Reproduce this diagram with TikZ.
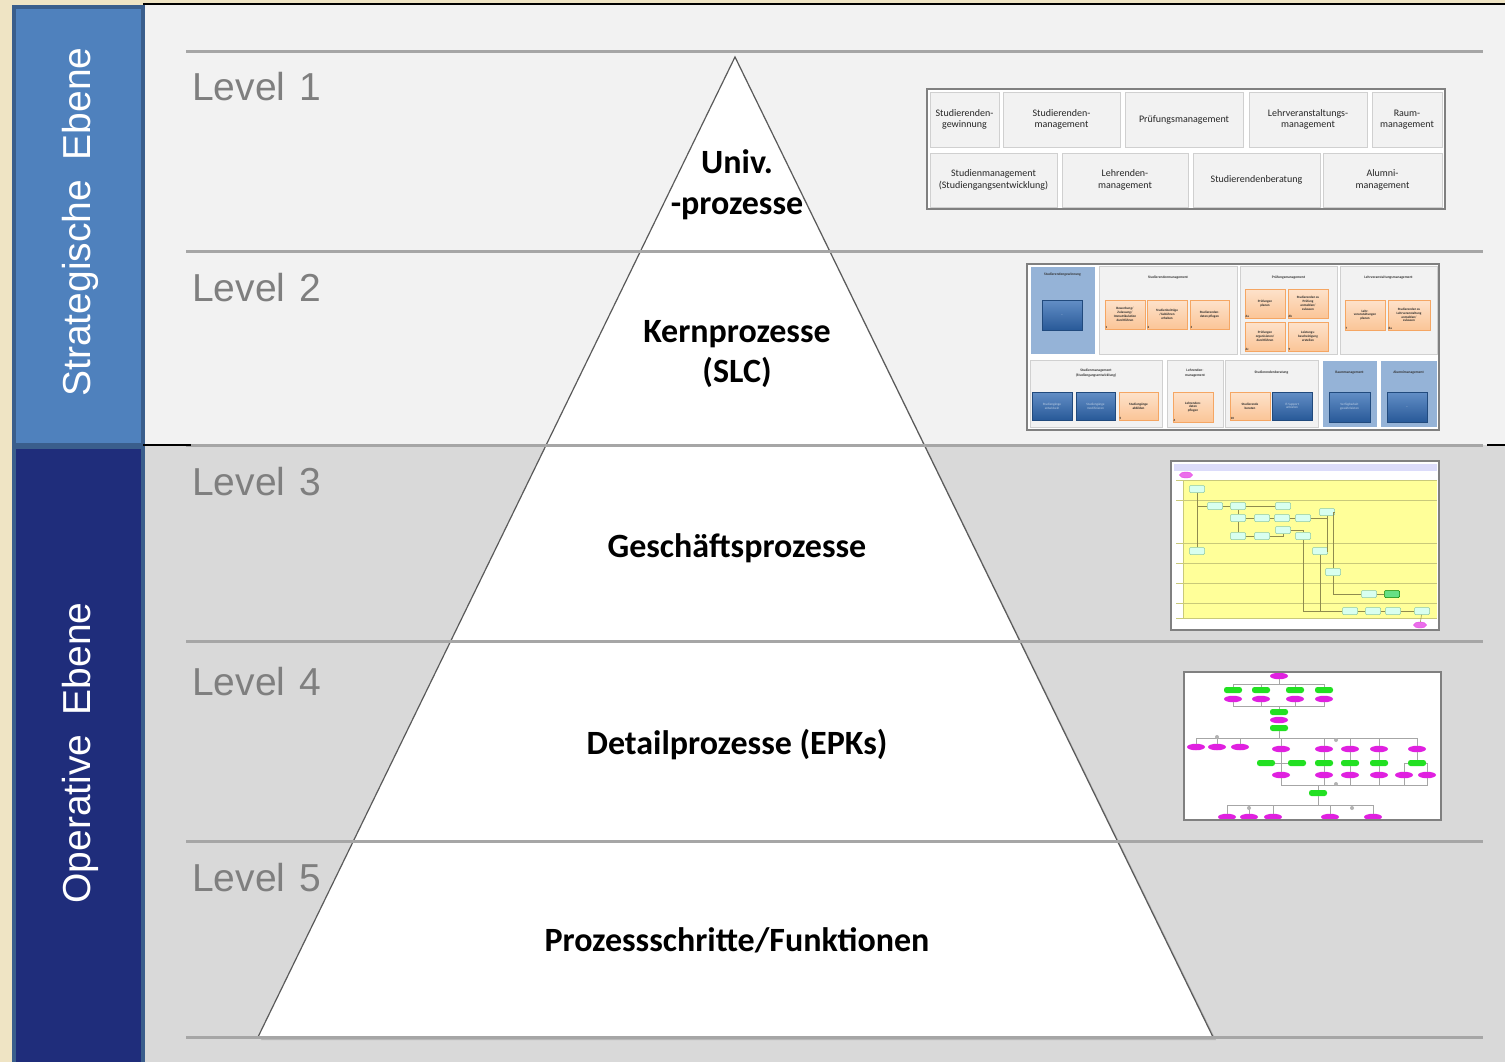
\documentclass[tikz,border=0pt]{standalone}
\usepackage{fontspec}
\setmainfont{Liberation Sans}
\newfontfamily\calib{Carlito}
\usetikzlibrary{shapes.geometric}

\definecolor{beige}{HTML}{EFE4C4}
\definecolor{stratblue}{HTML}{4F81BD}
\definecolor{opnavy}{HTML}{1F2D7B}
\definecolor{barrim}{HTML}{3A5E8C}
\definecolor{upperbg}{HTML}{F2F2F2}
\definecolor{lowerbg}{HTML}{D9D9D9}
\definecolor{levelgray}{HTML}{A6A6A6}
\definecolor{labelgray}{HTML}{7F7F7F}
\definecolor{framegray}{HTML}{808080}
\definecolor{pyredge}{HTML}{5A5A5A}
\definecolor{cellgray}{HTML}{F2F2F2}
\definecolor{cellrim}{HTML}{D0D0D0}
\definecolor{paleblue}{HTML}{95B3D7}
\definecolor{taskorange}{HTML}{FBC597}
\definecolor{taskrim}{HTML}{F5A663}
\definecolor{taskblue}{HTML}{2F69B3}
\definecolor{laneyellow}{HTML}{FFFF99}
\definecolor{lanerule}{HTML}{C9C97A}
\definecolor{headlav}{HTML}{DCDCFA}
\definecolor{stepcyan}{HTML}{D8FFF0}
\definecolor{steprim}{HTML}{8CC8A8}
\definecolor{eventmag}{HTML}{E020E0}
\definecolor{funcgreen}{HTML}{22E022}

% rectangle node given by its corners: name, x1, y1, x2, y2, style, text
\newcommand{\tilebox}[7]{%
  \pgfmathsetmacro{\tbw}{#4-#2}%
  \pgfmathsetmacro{\tbh}{#5-#3}%
  \pgfmathsetmacro{\tbx}{(#2+#4)/2}%
  \pgfmathsetmacro{\tby}{(#3+#5)/2}%
  \node[#6, minimum width=\tbw pt, minimum height=\tbh pt] (#1) at (\tbx,\tby) {#7};%
}

\begin{document}
\begin{tikzpicture}[x=1pt,y=-1pt,
  levelrule/.style={draw=levelgray,line width=3pt},
  levellabel/.style={anchor=base west,inner sep=0pt,text=labelgray,font=\fontsize{39}{39}\selectfont},
  sidelabel/.style={rotate=90,anchor=base,inner sep=0pt,text=white,font=\fontsize{39}{39}\selectfont},
  tiertext/.style={anchor=base,inner sep=0pt,font=\calib\bfseries\fontsize{34}{40}\selectfont},
  thumbframe/.style={draw=framegray,line width=2.5pt,fill=white,inner sep=0pt},
  l1cell/.style={draw=cellrim,line width=.8pt,fill=cellgray,inner sep=0pt,align=center,
    text=black!85,font=\calib\fontsize{10}{11.5}\selectfont},
  l2cell/.style={draw=cellrim,line width=.6pt,fill=cellgray,inner sep=0pt},
  l2pale/.style={draw=white,line width=.6pt,fill=paleblue,inner sep=0pt},
  l2title/.style={inner sep=0pt,align=center,text=black!80,font=\calib\bfseries\fontsize{3.6}{4.1}\selectfont},
  l2task/.style={draw=taskrim,line width=.5pt,top color=taskorange!50,bottom color=taskorange,
    inner sep=0pt,align=center,text=black!85,font=\calib\bfseries\fontsize{3.3}{3.8}\selectfont},
  l2blue/.style={draw=taskblue!70!black,line width=.5pt,top color=taskblue!75!white,bottom color=taskblue!85!black,
    inner sep=0pt,align=center,text=paleblue!60!white,font=\calib\fontsize{3.3}{3.8}\selectfont},
  l2num/.style={anchor=south west,inner sep=.7pt,text=black!85,font=\calib\bfseries\fontsize{3.2}{3.5}\selectfont},
  l3step/.style={draw=steprim,line width=.5pt,fill=stepcyan,minimum width=15pt,minimum height=7pt,inner sep=0pt,rounded corners=1pt},
  l3event/.style={ellipse,fill=eventmag!65,draw=eventmag!80,line width=.4pt,minimum width=13pt,minimum height=6pt,inner sep=0pt},
  l3link/.style={draw=olive!45!gray,line width=.5pt},
  l4event/.style={ellipse,fill=eventmag,minimum width=18pt,minimum height=6.5pt,inner sep=0pt},
  l4func/.style={rectangle,rounded corners=2.5pt,fill=funcgreen,minimum width=18pt,minimum height=6pt,inner sep=0pt},
  l4link/.style={draw=gray!70,line width=.5pt},
  l4gate/.style={circle,fill=gray!60,minimum size=4pt,inner sep=0pt}
]
\useasboundingbox (0,0) rectangle (1505,1062);

% backdrop and the two bands
\fill[beige] (0,0) rectangle (1505,1062);
\fill[upperbg] (143,5) rectangle (1505,445);
\fill[lowerbg] (143,445) rectangle (1505,1062);
\draw[black,line width=2pt] (143,4) -- (1505,4);

% side bars
\filldraw[fill=stratblue,draw=barrim,line width=4pt] (13.5,7.5) rectangle (142.5,445);
\filldraw[fill=opnavy,draw=barrim,line width=4pt] (13.5,447) rectangle (142.5,1075);
\node[sidelabel] (strat) at (90,222) {Strategische\hspace{0.5em}Ebene};
\node[sidelabel] (oper) at (90,753) {Operative\hspace{0.5em}Ebene};

% pyramid
\fill[black,opacity=.15] (737,60) -- (1216,1040) -- (261,1040) -- cycle;
\filldraw[fill=white,draw=pyredge,line width=1.2pt] (735,57) -- (1213,1037) -- (258,1037) -- cycle;

% level rules
\foreach \yy in {52,251,445,641,841,1037}
  \draw[levelrule] (186,\yy) -- (1483,\yy);
\draw[black,line width=2pt] (143,445) -- (191,445);
\draw[black,line width=2pt] (1487,445) -- (1505,445);

% level labels
\node[levellabel] (lv1) at (192,101) {Level\hspace{0.36em}1};
\node[levellabel] (lv2) at (192,301) {Level\hspace{0.36em}2};
\node[levellabel] (lv3) at (192,495) {Level\hspace{0.36em}3};
\node[levellabel] (lv4) at (192,695) {Level\hspace{0.36em}4};
\node[levellabel] (lv5) at (192,891) {Level\hspace{0.36em}5};

% pyramid tiers
\node[tiertext] (t1a) at (737,174) {Univ.};
\node[tiertext] (t1b) at (737,214) {-prozesse};
\node[tiertext] (t2a) at (737,342) {Kernprozesse};
\node[tiertext] (t2b) at (737,382) {(SLC)};
\node[tiertext] (t3) at (737,557) {Geschäftsprozesse};
\node[tiertext] (t4) at (737,754) {Detailprozesse (EPKs)};
\node[tiertext] (t5) at (737,951) {Prozessschritte/Funktionen};

% ---- level 1: process map
\tilebox{th1}{927}{89}{1445}{209}{thumbframe}{}
\tilebox{pa}{930}{92}{999}{147}{l1cell}{Studierenden-\\gewinnung}
\tilebox{pb}{1003}{92}{1120}{147}{l1cell}{Studierenden-\\management}
\tilebox{pc}{1125}{92}{1243}{147}{l1cell}{Prüfungsmanagement}
\tilebox{pd}{1249}{92}{1367}{147}{l1cell}{Lehrveranstaltungs-\\management}
\tilebox{pe}{1372}{92}{1442}{147}{l1cell}{Raum-\\management}
\tilebox{pf}{930}{153}{1057}{207}{l1cell}{Studienmanagement\\(Studiengangsentwicklung)}
\tilebox{pg}{1062}{153}{1188}{207}{l1cell}{Lehrenden-\\management}
\tilebox{ph}{1193}{153}{1320}{207}{l1cell}{Studierendenberatung}
\tilebox{pi}{1323}{153}{1442}{207}{l1cell}{Alumni-\\management}

% ---- level 2: core processes with tasks
\tilebox{th2}{1027}{264}{1439}{430}{thumbframe}{}
\tilebox{ga}{1030}{266}{1095}{354}{l2pale}{}
\node[l2title] (gat) at (1062.5,275) {Studierendengewinnung};
\tilebox{ga1}{1042}{300}{1082}{330}{l2blue}{...}
\tilebox{gb}{1099}{266}{1237}{354}{l2cell}{}
\node[l2title] (gbt) at (1168,278) {Studierendenmanagement};
\tilebox{gb1}{1105}{300}{1145}{329}{l2task}{Bewerbung/\\Zulassung/\\Immatrikulation\\durchführen}
\node[l2num] (gb1n) at (gb1.south west) {1};
\tilebox{gb2}{1147}{300}{1187}{329}{l2task}{Studienbeiträge\\/Gebühren\\erheben}
\node[l2num] (gb2n) at (gb2.south west) {2};
\tilebox{gb3}{1190}{300}{1229}{329}{l2task}{Studierenden-\\daten pflegen}
\node[l2num] (gb3n) at (gb3.south west) {3};
\tilebox{gc}{1240}{266}{1337}{354}{l2cell}{}
\node[l2title] (gct) at (1288.5,278) {Prüfungsmanagement};
\tilebox{gc1}{1245}{289}{1285}{318}{l2task}{Prüfungen\\planen}
\node[l2num] (gc1n) at (gc1.south west) {6a};
\tilebox{gc2}{1288}{289}{1328}{318}{l2task}{Studierenden zu\\Prüfung\\anmelden/\\zulassen}
\node[l2num] (gc2n) at (gc2.south west) {6b};
\tilebox{gc3}{1245}{322}{1285}{351}{l2task}{Prüfungen\\organisieren/\\durchführen}
\node[l2num] (gc3n) at (gc3.south west) {6c};
\tilebox{gc4}{1288}{322}{1328}{351}{l2task}{Leistungs-\\bescheinigung\\erstellen}
\node[l2num] (gc4n) at (gc4.south west) {9};
\tilebox{gd}{1340}{266}{1437}{354}{l2cell}{}
\node[l2title] (gdt) at (1388.5,278) {Lehrveranstaltungsmanagement};
\tilebox{gd1}{1345}{300}{1385}{330}{l2task}{Lehr-\\veranstaltungen\\planen}
\node[l2num] (gd1n) at (gd1.south west) {7};
\tilebox{gd2}{1388}{300}{1430}{330}{l2task}{Studierenden zu\\Lehrveranstaltung\\anmelden/\\zulassen}
\node[l2num] (gd2n) at (gd2.south west) {8a};
\tilebox{ge}{1030}{360}{1162}{427}{l2cell}{}
\node[l2title] (get) at (1096,373) {Studienmanagement\\(Studiengangsentwicklung)};
\tilebox{ge1}{1032}{392}{1072}{420}{l2blue}{Studiengänge\\entwickeln}
\tilebox{ge2}{1076}{392}{1115}{420}{l2blue}{Studiengänge\\modifizieren}
\tilebox{ge3}{1119}{392}{1158}{420}{l2task}{Studiengänge\\abbilden}
\node[l2num] (ge3n) at (ge3.south west) {5};
\tilebox{gf}{1167}{360}{1223}{427}{l2cell}{}
\node[l2title] (gft) at (1195,373) {Lehrenden-\\management};
\tilebox{gf1}{1173}{392}{1213}{422}{l2task}{Lehrenden-\\daten\\pflegen}
\node[l2num] (gf1n) at (gf1.south west) {4};
\tilebox{gg}{1225}{360}{1318}{427}{l2cell}{}
\node[l2title] (ggt) at (1271.5,373) {Studierendenberatung};
\tilebox{gg1}{1230}{392}{1270}{420}{l2task}{Studierende\\beraten}
\node[l2num] (gg1n) at (gg1.south west) {10};
\tilebox{gg2}{1272}{392}{1312}{420}{l2blue}{IT-Support\\anbieten}
\tilebox{gh}{1322}{360}{1377}{427}{l2pale}{}
\node[l2title] (ght) at (1349.5,373) {Raummanagement};
\tilebox{gh1}{1329}{392}{1370}{422}{l2blue}{Verfügbarkeit\\gewährleisten}
\tilebox{gi}{1380}{360}{1437}{427}{l2pale}{}
\node[l2title] (git) at (1408.5,373) {Alumnimanagement};
\tilebox{gi1}{1387}{392}{1427}{422}{l2blue}{...}

% ---- level 3: swimlane business process
\tilebox{th3}{1171}{461}{1439}{630}{thumbframe}{}
\fill[headlav] (1174,463.5) rectangle (1436.5,471);
\fill[laneyellow] (1183,480) rectangle (1436.5,618);
\foreach \yy in {480,500,543,563,583,603,618}
  \draw[lanerule,line width=.6pt] (1176,\yy) -- (1436.5,\yy);
\draw[lanerule,line width=.6pt] (1183,480) -- (1183,618);
\node[l3event] (e3a) at (1186,475) {};
\node[l3event] (e3b) at (1420,625) {};
\foreach \n/\xx/\yy in {s1/1197/489, s2/1215/506, s3/1238/506, s4/1283/506,
    s5/1238/518, s6/1262/518, s7/1282/518, s8/1303/518, s9/1327/512,
    s10/1238/536, s11/1262/536, s12/1283/530, s13/1303/536,
    s14/1197/551, s15/1320/551, s16/1333/572, s17/1369/594,
    s19/1350/611, s20/1373/611, s21/1393/611, s22/1422/611}
  \node[l3step] (\n) at (\xx,\yy) {};
\node[l3step,fill=green!60!teal!60,draw=green!50!black] (s18) at (1392,594) {};
\draw[l3link] (s1) -- (s14);
\draw[l3link] (s1) |- (s2);
\draw[l3link] (s2) -- (s3);
\draw[l3link] (s3) -- (s4);
\draw[l3link] (s3) -- (s5);
\draw[l3link] (s5) -- (s6);
\draw[l3link] (s6) -- (s7);
\draw[l3link] (s7) -- (s8);
\draw[l3link] (s5) -- (s10);
\draw[l3link] (s10) -- (s11);
\draw[l3link] (s11) -| (s12);
\draw[l3link] (s12) -| (s13);
\draw[l3link] (s8) -| (s9);
\draw[l3link] (s9) |- (s15);
\draw[l3link] (s9) -| (s16);
\draw[l3link] (s13) |- (s19);
\draw[l3link] (s15) -- (1320,611);
\draw[l3link] (s16) |- (s17);
\draw[l3link] (s17) -- (s18);
\draw[l3link] (s19) -- (s20);
\draw[l3link] (s20) -- (s21);
\draw[l3link] (s21) -- (s22);
\draw[l3link] (s22) -- (e3b);

% ---- level 4: event-driven process chain
\tilebox{th4}{1184}{672}{1441}{820}{thumbframe}{}
\begin{scope}
\clip (1185.5,673.5) rectangle (1439.5,818.5);
\coordinate (b4a) at (1279,684);
\coordinate (b4b) at (1279,706);
\coordinate (b4c) at (1279,738);
\coordinate (b4d) at (1318,785);
\coordinate (b4e) at (1318,805);
\foreach \n/\xx/\yy in {g1/1233/690, g2/1261/690, g3/1295/690, g4/1324/690,
    g5/1279/712, g6/1279/728, g7/1266/763, g8/1297/763,
    g9/1324/763, g10/1350/763, g11/1379/763, g12/1417/763, g13/1318/793}
  \node[l4func] (\n) at (\xx,\yy) {};
\foreach \n/\xx/\yy in {m0/1279/676, m1/1233/699, m2/1261/699, m3/1295/699, m4/1324/699,
    m5/1279/720, m6/1196/747, m7/1217/747, m8/1240/747, m9/1281/749,
    m10/1324/749, m11/1350/749, m12/1379/749, m13/1417/749,
    m14/1281/775, m15/1324/775, m16/1350/775, m17/1379/775, m18/1404/775, m19/1427/775,
    m20/1227/817, m21/1249/817, m22/1273/817, m23/1330/817, m24/1373/817}
  \node[l4event] (\n) at (\xx,\yy) {};
\begin{scope}[on background layer/.style={}]
\draw[l4link] (m0) -- (b4a);
\foreach \n in {g1,g2,g3,g4} \draw[l4link] (b4a) -| (\n);
\foreach \n in {m1,m2,m3,m4} \draw[l4link] (\n) |- (b4b);
\draw[l4link] (b4b) -- (g5);
\draw[l4link] (g6) -- (b4c);
\foreach \n in {m6,m7,m8,m9,m10,m11,m12,m13} \draw[l4link] (b4c) -| (\n);
\draw[l4link] (g7) -- (g8);
\draw[l4link] (m9) -- (m14);
\draw[l4link] (m10) -- (g9); \draw[l4link] (g9) -- (m15);
\draw[l4link] (m11) -- (g10); \draw[l4link] (g10) -- (m16);
\draw[l4link] (m12) -- (g11); \draw[l4link] (g11) -- (m17);
\draw[l4link] (m13) -- (g12);
\draw[l4link] (g12) -| (m18);
\draw[l4link] (g12) -| (m19);
\foreach \n in {m14,m15,m16,m17,m18,m19} \draw[l4link] (\n) |- (b4d);
\draw[l4link] (b4d) -- (g13);
\draw[l4link] (g13) -- (b4e);
\foreach \n in {m20,m21,m22,m23,m24} \draw[l4link] (b4e) -| (\n);
\end{scope}
\node[l4gate] (x1) at (1217,737) {};
\node[l4gate] (x2) at (1336,740) {};
\node[l4gate] (x3) at (1336,784) {};
\node[l4gate] (x4) at (1352,808) {};
\node[l4gate] (x5) at (1249,808) {};
\end{scope}
\end{tikzpicture}
\end{document}
